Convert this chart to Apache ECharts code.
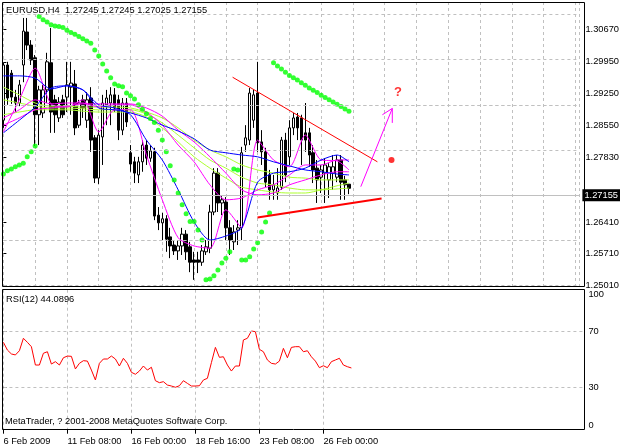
<!DOCTYPE html>
<html><head><meta charset="utf-8">
<script src="https://cdn.jsdelivr.net/npm/echarts@6/dist/echarts.min.js"></script>
<style>html,body{margin:0;padding:0;background:#fff}#c{width:622px;height:447px}</style>
</head><body><div id="c"></div>
<script>
const symbolName = 'EURUSD,H4';
const opens = [1.2866,1.2988,1.2970,1.2917,1.2904,1.2988,1.3061,1.3032,1.3004,1.2878,1.2882,1.2933,1.2993,1.2911,1.2871,1.2911,1.2917,1.2939,1.2946,1.2855,1.2911,1.2866,1.2915,1.2827,1.2738,1.2829,1.2900,1.2904,1.2922,1.2911,1.2844,1.2904,1.2794,1.2774,1.2745,1.2774,1.2811,1.2782,1.2796,1.2656,1.2639,1.2648,1.2608,1.2590,1.2577,1.2588,1.2614,1.2586,1.2557,1.2557,1.2552,1.2575,1.2583,1.2663,1.2749,1.2683,1.2685,1.2628,1.2597,1.2623,1.2628,1.2811,1.2822,1.2866,1.2926,1.2818,1.2796,1.2745,1.2712,1.2705,1.2718,1.2822,1.2785,1.2849,1.2873,1.2871,1.2838,1.2838,1.2794,1.2760,1.2740,1.2749,1.2734,1.2749,1.2740,1.2778,1.2734,1.27245];
const closes = [1.2988,1.2915,1.2917,1.2904,1.2944,1.3063,1.3032,1.2999,1.2878,1.2933,1.2933,1.2995,1.2884,1.2878,1.2906,1.2878,1.2944,1.2948,1.2849,1.2904,1.2893,1.2911,1.2822,1.2738,1.2833,1.2904,1.2915,1.2922,1.2893,1.2844,1.2904,1.2862,1.2769,1.2749,1.2774,1.2811,1.2782,1.2798,1.2654,1.2639,1.2648,1.2603,1.2588,1.2577,1.2588,1.2614,1.2575,1.2552,1.2552,1.2552,1.2577,1.2586,1.2663,1.2749,1.2683,1.2690,1.2628,1.2601,1.2619,1.2628,1.2794,1.2827,1.2926,1.2922,1.2816,1.2796,1.2729,1.2712,1.2723,1.2716,1.2822,1.2745,1.2849,1.2871,1.2849,1.2822,1.2822,1.2789,1.2756,1.2734,1.2756,1.2767,1.2763,1.2763,1.2778,1.2729,1.2723,1.27155];
const highs = [1.2993,1.2995,1.2977,1.2933,1.2955,1.3092,1.3092,1.3043,1.3010,1.2942,1.2944,1.3015,1.3070,1.2922,1.2917,1.2922,1.2995,1.2995,1.2977,1.2911,1.2922,1.2928,1.2939,1.2833,1.2844,1.2922,1.2933,1.2939,1.2937,1.2922,1.2915,1.2915,1.2811,1.2785,1.2785,1.2822,1.2822,1.2811,1.2805,1.2674,1.2661,1.2656,1.2628,1.2601,1.2601,1.2628,1.2623,1.2597,1.2575,1.2575,1.2590,1.2601,1.2679,1.2760,1.2760,1.2698,1.2696,1.2645,1.2634,1.2645,1.2807,1.2855,1.2937,1.2933,1.2995,1.2844,1.2805,1.2756,1.2745,1.2760,1.2829,1.2838,1.2866,1.2882,1.2882,1.2878,1.2904,1.2849,1.2811,1.2778,1.2767,1.2782,1.2771,1.2789,1.2789,1.2789,1.2743,1.27245];
const lows = [1.2849,1.2900,1.2902,1.2884,1.2897,1.2950,1.3021,1.2988,1.2809,1.2811,1.2871,1.2904,1.2838,1.2838,1.2862,1.2871,1.2884,1.2878,1.2833,1.2849,1.2871,1.2849,1.2796,1.2727,1.2725,1.2767,1.2855,1.2855,1.2884,1.2822,1.2833,1.2851,1.2752,1.2727,1.2727,1.2752,1.2767,1.2774,1.2645,1.2623,1.2601,1.2575,1.2561,1.2568,1.2557,1.2568,1.2557,1.2530,1.2513,1.2528,1.2544,1.2568,1.2572,1.2656,1.2663,1.2656,1.2601,1.2568,1.2579,1.2590,1.2601,1.2796,1.2811,1.2849,1.2796,1.2767,1.2718,1.2690,1.2690,1.2690,1.2712,1.2729,1.2767,1.2833,1.2822,1.2767,1.2796,1.2763,1.2727,1.2683,1.2705,1.2683,1.2694,1.2712,1.2729,1.2690,1.2690,1.27025];
const sar = [1.2747,1.2754,1.2758,1.2763,1.2767,1.2771,1.2785,1.2796,1.2809,
  1.3095,1.3088,1.3083,1.3077,1.3074,1.3073,1.3071,1.3065,1.3060,1.3056,1.3051,1.3046,1.3041,1.3036,
  1.3021,1.3008,1.2990,1.2975,1.2960,1.2946,1.2942,1.2940,1.2926,1.2920,1.2913,1.2900,1.2890,1.2880,1.2870,1.2861,1.2844,1.2822,1.2796,1.2765,1.2734,1.2705,1.2679,1.2659,1.2642,1.2642,1.2623,1.2601,
  1.2513,1.2515,1.2522,1.2535,1.2550,1.2561,1.2575,
  1.2758,1.2756,
  1.2557,1.2557,1.2564,1.2581,1.2595,1.2619,1.2641,1.2661,
  1.2993,1.2986,1.2979,1.2972,1.2965,1.2960,1.2955,1.2949,1.2943,1.2937,1.2932,1.2927,1.2921,1.2916,1.2911,1.2906,1.2901,1.2896,1.2891,1.2886];
const maIdx = [0,4,8,12,16,20,24,28,32,36,40,44,48,52,56,60,64,68,72,76,80,84,87];
const maBlueSlow = [1.2964,1.2964,1.2959,1.2935,1.2942,1.2933,1.2893,1.2889,1.2882,1.2871,1.2855,1.2842,1.2825,1.2800,1.2794,1.2789,1.2785,1.2774,1.2765,1.2756,1.2752,1.2747,1.2745];
const maBlueFast = [1.2838,1.2866,1.2895,1.2937,1.2942,1.2933,1.2900,1.2893,1.2878,1.2822,1.2778,1.2712,1.2641,1.2601,1.2610,1.2628,1.2729,1.2749,1.2752,1.2760,1.2778,1.2789,1.2774];
const maMagFast = [1.2840,1.2911,1.2981,1.2902,1.2895,1.2911,1.2840,1.2889,1.2889,1.2789,1.2690,1.2606,1.2588,1.2583,1.2668,1.2628,1.2822,1.2778,1.2763,1.2833,1.2778,1.2776,1.2756];
const maMagMid = [1.2871,1.2889,1.2911,1.2902,1.2904,1.2904,1.2895,1.2900,1.2900,1.2884,1.2855,1.2811,1.2774,1.2723,1.2690,1.2694,1.2712,1.2723,1.2745,1.2767,1.2767,1.2778,1.2778];
const maMagSlow = [1.2855,1.2871,1.2889,1.2893,1.2897,1.2902,1.2902,1.2902,1.2902,1.2893,1.2875,1.2844,1.2818,1.2785,1.2749,1.2712,1.2701,1.2705,1.2723,1.2734,1.2745,1.2752,1.2752];
const maLime1 = [1.2939,1.2922,1.2904,1.2897,1.2897,1.2895,1.2895,1.2895,1.2893,1.2884,1.2871,1.2849,1.2822,1.2800,1.2785,1.2767,1.2756,1.2749,1.2740,1.2738,1.2734,1.2734,1.2734];
const maLime2 = [1.2911,1.2904,1.2897,1.2893,1.2893,1.2891,1.2889,1.2889,1.2889,1.2880,1.2860,1.2833,1.2805,1.2778,1.2760,1.2740,1.2727,1.2723,1.2716,1.2712,1.2712,1.2714,1.2716];
const maLime3 = [1.2878,1.2884,1.2889,1.2889,1.2889,1.2886,1.2884,1.2884,1.2884,1.2873,1.2849,1.2818,1.2785,1.2760,1.2738,1.2718,1.2712,1.2707,1.2705,1.2705,1.2712,1.2721,1.2727];
const rsiPeriod = 12;
const rsi = [62.4,56.9,54.1,53.4,56.4,65.3,62.4,59.3,46.2,46.2,
  54.6,55.7,46.9,48.6,46.2,51.4,52.6,52.4,43.4,47.4,
  49.3,49.0,42.6,35.5,47.4,50.5,50.5,52.6,50.5,45.5,
  51.0,47.4,41.0,39.6,41.9,45.5,42.6,44.6,35.0,33.6,
  34.3,31.9,31.2,30.3,31.4,35.0,33.1,31.2,31.2,31.4,
  35.5,36.7,47.9,58.8,51.7,52.1,46.2,41.9,45.5,45.5,
  64.1,65.3,70.5,70.0,57.4,55.7,49.8,47.4,46.9,49.0,
  58.1,51.4,58.8,59.3,59.3,55.7,56.4,52.1,49.0,44.3,
  45.7,44.3,48.6,49.8,51.0,46.2,45.0,44.0896];
const trendUpper = [[57.7,1.2961],[94.15,1.2774]];
const trendLower = [[63.97,1.2651],[95.2,1.2693]];
const arrowShaft = [[89.97,1.2719],[97.9,1.2892]];
const arrowHead = [[95.4,1.2878],[97.9,1.2892],[97.9,1.2860]];
const questionMark = [[99.3,1.2928]];
const redDot = [[97.7,1.2778]];
const priceTicks = [1.30670,1.29950,1.29250,1.28550,1.27830,1.26410,1.25710,1.25010];
const rsiTicks = [0,30,70,100];
const rsiGridLevels = [30,70];
const timeTickIdx = [0,16,32,48,64,80];
const timeTickLabels = ['6 Feb 2009','11 Feb 08:00','16 Feb 00:00','18 Feb 16:00','23 Feb 08:00','26 Feb 00:00'];
const copyrightText = 'MetaTrader, ? 2001-2008 MetaQuotes Software Corp.';

const FONT = 'Liberation Sans';
const n = opens.length;
const lastClose = closes[n-1];
const candleData = opens.map((o,i)=>[i,o,closes[i],lows[i],highs[i]]);
const grid = {color:'#c0c0c0', type:[3,3], width:1};
function maSeries(arr,color){
  return {type:'line', xAxisIndex:0, yAxisIndex:0, data: maIdx.map((x,k)=>[x,arr[k]]),
    symbol:'none', smooth:0.25, lineStyle:{color:color, width:1}, z:3, silent:true};
}
const chart = echarts.init(document.getElementById('c'), null, {renderer:'canvas'});
chart.setOption({
  animation:false,
  backgroundColor:'#fff',
  title:[
    {text: symbolName+'  '+[opens[n-1],highs[n-1],lows[n-1],closes[n-1]].map(v=>v.toFixed(5)).join(' '),
     left:6, top:6, padding:0, textStyle:{fontFamily:FONT, fontSize:9.3, fontWeight:'normal', color:'#000'}},
    {text:'RSI('+rsiPeriod+') '+rsi[n-1].toFixed(4), left:6, top:295, padding:0,
     textStyle:{fontFamily:FONT, fontSize:9.3, fontWeight:'normal', color:'#000'}},
    {text:copyrightText, left:5, top:417, padding:0,
     textStyle:{fontFamily:FONT, fontSize:9.3, fontWeight:'normal', color:'#000'}}
  ],
  grid:[
    {left:3.4, top:2, width:580, height:285},
    {left:3.4, top:289.7, width:580, height:140}
  ],
  xAxis:[
    {type:'value', gridIndex:0, min:0, max:145, interval:8,
     axisLine:{show:false}, axisTick:{show:false}, axisLabel:{show:false},
     splitLine:{show:true, lineStyle:grid}},
    {type:'value', gridIndex:1, min:0, max:145, interval:8,
     axisLine:{show:false},
     axisTick:{show:true, customValues:timeTickIdx, length:4, lineStyle:{color:'#000'}},
     axisLabel:{show:true, customValues:timeTickIdx, margin:7, align:'left',
       fontFamily:FONT, fontSize:9.3, color:'#000',
       formatter:v=>{const k=timeTickIdx.indexOf(Math.round(v)); return k>=0?timeTickLabels[k]:'';}},
     splitLine:{show:true, lineStyle:grid}}
  ],
  yAxis:[
    {type:'value', gridIndex:0, position:'right', min:1.24972, max:1.31273,
     axisLine:{show:false}, splitLine:{show:false},
     axisTick:{show:true, customValues:priceTicks, length:3, lineStyle:{color:'#000'}},
     axisLabel:{show:true, customValues:priceTicks, margin:6, fontFamily:FONT, fontSize:9.3, color:'#000',
       formatter:v=>v.toFixed(5)}},
    {type:'value', gridIndex:1, position:'right', min:0, max:100,
     axisLine:{show:false}, splitLine:{show:false},
     axisTick:{show:true, customValues:rsiTicks, length:3, lineStyle:{color:'#000'}},
     axisLabel:{show:true, customValues:rsiTicks, margin:5, fontFamily:FONT, fontSize:9.3, color:'#000',
       verticalAlignMinLabel:'bottom', verticalAlignMaxLabel:'top'}}
  ],
  series:[
    {type:'line', xAxisIndex:0, yAxisIndex:0, data:[], z:1, silent:true,
     markLine:{silent:true, symbol:['none','none'], animation:false, label:{show:false},
       lineStyle:grid,
       data: priceTicks.map(v=>({yAxis:v})).concat([{yAxis:lastClose,
         lineStyle:{color:'#c0c0c0', type:'solid', width:1},
         label:{show:true, position:'end', distance:3, formatter:lastClose.toFixed(5),
           backgroundColor:'#000', color:'#fff', fontFamily:FONT, fontSize:9.3, padding:[2,2,1,2]}}])}},
    {type:'line', xAxisIndex:1, yAxisIndex:1, data:[], z:1, silent:true,
     markLine:{silent:true, symbol:['none','none'], animation:false, label:{show:false},
       lineStyle:grid, data: rsiGridLevels.map(v=>({yAxis:v}))}},
    {type:'candlestick', xAxisIndex:0, yAxisIndex:0, data:candleData, encode:{x:0, y:[1,2,3,4]},
     barWidth:3, clip:false, z:2, silent:true,
     itemStyle:{color:'#fff', color0:'#000', borderColor:'#000', borderColor0:'#000', borderWidth:1}},
    maSeries(maLime1,'#adff2f'),
    maSeries(maLime2,'#adff2f'),
    maSeries(maLime3,'#adff2f'),
    maSeries(maMagSlow,'#ff00ff'),
    maSeries(maMagMid,'#ff00ff'),
    maSeries(maMagFast,'#ff00ff'),
    maSeries(maBlueSlow,'#0000ff'),
    maSeries(maBlueFast,'#0000ff'),
    {type:'scatter', xAxisIndex:0, yAxisIndex:0, data:sar.map((v,i)=>[i,v]), symbol:'circle', symbolSize:5,
     itemStyle:{color:'#00ff00'}, z:4, silent:true},
    {type:'line', xAxisIndex:0, yAxisIndex:0, data:trendUpper, symbol:'none', lineStyle:{color:'#ff0000', width:1}, z:5, silent:true},
    {type:'line', xAxisIndex:0, yAxisIndex:0, data:trendLower, symbol:'none', lineStyle:{color:'#ff0000', width:2}, z:5, silent:true},
    {type:'line', xAxisIndex:0, yAxisIndex:0, data:arrowShaft, symbol:'none', lineStyle:{color:'#ff00ff', width:1}, z:5, silent:true},
    {type:'line', xAxisIndex:0, yAxisIndex:0, data:arrowHead, symbol:'none', lineStyle:{color:'#ff00ff', width:1}, z:5, silent:true},
    {type:'scatter', xAxisIndex:0, yAxisIndex:0, data:redDot, symbol:'circle', symbolSize:6, itemStyle:{color:'#ff0000'}, z:5, silent:true},
    {type:'scatter', xAxisIndex:0, yAxisIndex:0, data:questionMark, symbolSize:1, itemStyle:{color:'rgba(0,0,0,0)'},
     label:{show:true, position:'inside', formatter:'?', color:'#ff0000', fontFamily:FONT, fontWeight:'bold', fontSize:13}, z:5, silent:true},
    {type:'line', xAxisIndex:1, yAxisIndex:1, data:rsi.map((v,i)=>[i,v]), symbol:'none',
     lineStyle:{color:'#ff0000', width:1}, z:3, silent:true}
  ],
  graphic:[
    {type:'rect', z:100, silent:true, shape:{x:2.5, y:2.5, width:582, height:284}, style:{fill:null, stroke:'#000', lineWidth:1}},
    {type:'rect', z:100, silent:true, shape:{x:2.5, y:289.5, width:582, height:140}, style:{fill:null, stroke:'#000', lineWidth:1}}
  ]
});
</script>
</body></html>
